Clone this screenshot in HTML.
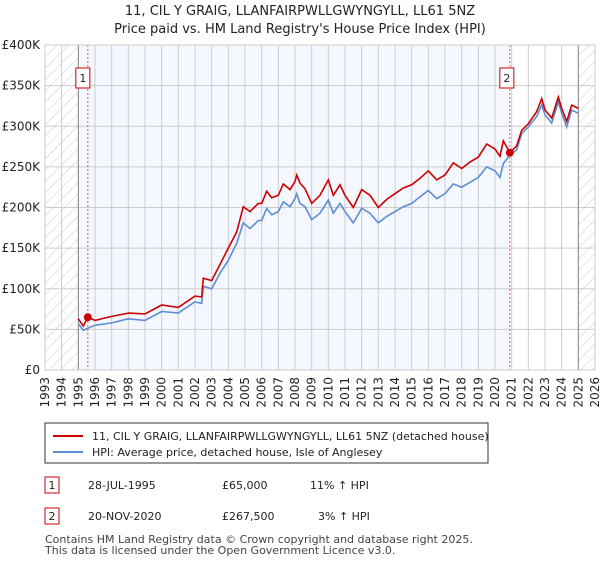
<!DOCTYPE html>
<html><head><meta charset="utf-8"><style>
body{margin:0;background:#fff;font-family:"Liberation Sans","DejaVu Sans",sans-serif;}
svg text{font-family:"DejaVu Sans","Liberation Sans",sans-serif;}
</style></head><body>
<svg id="c" width="600" height="560" xmlns="http://www.w3.org/2000/svg">
<defs><pattern id="hatch" width="8" height="8" patternUnits="userSpaceOnUse" patternTransform="rotate(45)"><line x1="0" y1="0" x2="0" y2="8" stroke="#ccc" stroke-width="1"/></pattern></defs>
<text x="300" y="15" text-anchor="middle" font-size="13" fill="#222">11, CIL Y GRAIG, LLANFAIRPWLLGWYNGYLL, LL61 5NZ</text>
<text x="300" y="33" text-anchor="middle" font-size="13" fill="#222">Price paid vs. HM Land Registry's House Price Index (HPI)</text>
<g id="plot"></g>
<g>
<rect x="45" y="423" width="443" height="40" fill="#fff" stroke="#333"/>
<line x1="53" y1="436" x2="83" y2="436" stroke="#cc0000" stroke-width="2"/>
<text x="92" y="440" font-size="11" fill="#222">11, CIL Y GRAIG, LLANFAIRPWLLGWYNGYLL, LL61 5NZ (detached house)</text>
<line x1="53" y1="452" x2="83" y2="452" stroke="#5b8fd1" stroke-width="2"/>
<text x="92" y="456" font-size="11" fill="#222">HPI: Average price, detached house, Isle of Anglesey</text>
</g>
<g font-size="11" fill="#222">
<rect x="45" y="477" width="14" height="16" fill="#fff" stroke="#cc0000"/><text x="52" y="489" text-anchor="middle">1</text>
<text x="88" y="489">28-JUL-1995</text><text x="222" y="489">£65,000</text><text x="310" y="489">11% ↑ HPI</text>
<rect x="45" y="508" width="14" height="16" fill="#fff" stroke="#cc0000"/><text x="52" y="520" text-anchor="middle">2</text>
<text x="88" y="520">20-NOV-2020</text><text x="222" y="520">£267,500</text><text x="318" y="520">3% ↑ HPI</text>
</g>
<text x="45" y="543" font-size="11" fill="#444">Contains HM Land Registry data © Crown copyright and database right 2025.</text>
<text x="45" y="554" font-size="11" fill="#444">This data is licensed under the Open Government Licence v3.0.</text>
</svg>
<script>
const yTicks=[0,50,100,150,200,250,300,350,400];
const yTickLabels=["£0","£50K","£100K","£150K","£200K","£250K","£300K","£350K","£400K"];
const years=[1993,1994,1995,1996,1997,1998,1999,2000,2001,2002,2003,2004,2005,2006,2007,2008,2009,2010,2011,2012,2013,2014,2015,2016,2017,2018,2019,2020,2021,2022,2023,2024,2025,2026];
const hpiDates=[1995.0,1995.3,1996,1997,1998,1999,2000,2001,2002,2002.4,2002.5,2003,2003.5,2004,2004.5,2004.9,2005.3,2005.8,2006,2006.3,2006.6,2007,2007.3,2007.7,2008,2008.1,2008.3,2008.6,2009,2009.5,2010,2010.3,2010.7,2011,2011.5,2012,2012.5,2013,2013.5,2014,2014.5,2015,2015.5,2016,2016.5,2017,2017.5,2018,2018.5,2019,2019.5,2020,2020.3,2020.5,2020.9,2021.3,2021.6,2022,2022.5,2022.8,2023,2023.4,2023.8,2024,2024.3,2024.6,2025];
const hpiValues=[57,49,55,58,63,61,72,70,84,82,103,100,119,135,156,181,174,184,184,199,191,195,207,201,211,217,205,201,185,193,209,193,205,195,181,199,193,181,189,195,201,205,213,221,211,217,229,225,231,237,250,245,237,254,265,271,291,299,312,326,314,304,330,316,299,320,316];
const priceDates=[1995.0,1995.3,1995.57,1996,1997,1998,1999,2000,2001,2002,2002.4,2002.5,2003,2003.5,2004,2004.5,2004.9,2005.3,2005.8,2006,2006.3,2006.6,2007,2007.3,2007.7,2008,2008.1,2008.3,2008.6,2009,2009.5,2010,2010.3,2010.7,2011,2011.5,2012,2012.5,2013,2013.5,2014,2014.5,2015,2015.5,2016,2016.5,2017,2017.5,2018,2018.5,2019,2019.5,2020,2020.3,2020.5,2020.89,2021.3,2021.6,2022,2022.5,2022.8,2023,2023.4,2023.8,2024,2024.3,2024.6,2025];
const priceValues=[63,54,65,61,66,70,69,80,77,91,90,113,110,130,150,170,201,195,205,205,220,212,215,229,222,232,240,230,223,205,215,234,215,228,215,200,222,215,200,210,217,224,228,236,245,234,240,255,248,256,262,278,272,263,282,267.5,276,295,303,318,334,320,310,336,322,306,326,322];
const saleDates=[1995.57,2020.89];
const saleValues=[65,267.5];
const saleLabels=["1","2"];

const L=45,R=595,T=45,B=370,X0=1993,X1=2026,YMAX=400;
const xs=t=>L+(t-X0)/(X1-X0)*(R-L);
const ys=v=>B-v/YMAX*(B-T);
const NS="http://www.w3.org/2000/svg";
const g=document.getElementById('plot');
function mk(tag,attrs){const e=document.createElementNS(NS,tag);for(const k in attrs)e.setAttribute(k,attrs[k]);g.appendChild(e);return e;}
let e;
e=mk('rect',{x:xs(1995),y:T,width:xs(saleDates[1])-xs(1995),height:B-T,fill:'#f4f7fe'});


e=mk('rect',{x:L,y:T,width:xs(1995)-L,height:B-T,fill:'url(#hatch)'});


e=mk('rect',{x:xs(2025),y:T,width:R-xs(2025),height:B-T,fill:'url(#hatch)'});


years.forEach(y=>{
  e=mk('line',{x1:xs(y),x2:xs(y),y1:T,y2:B,stroke:'#ccc','stroke-width':1});
  
  
  e=mk('text',{x:0,y:0,'font-size':12,fill:'#222','text-anchor':'end',transform:`translate(${xs(y)+4},${B+7}) rotate(-90)`});
  e.textContent=y;
  
  
});
yTicks.forEach((v,i)=>{
  e=mk('line',{x1:L,x2:R,y1:ys(v),y2:ys(v),stroke:'#ccc','stroke-width':1});
  
  
  e=mk('text',{x:L-5,y:ys(v)+4,'font-size':12,fill:'#222','text-anchor':'end'});
  e.textContent=yTickLabels[i];
  
  
});
e=mk('line',{x1:xs(1995),x2:xs(1995),y1:T,y2:B,stroke:'#888','stroke-width':1});


e=mk('line',{x1:xs(2025),x2:xs(2025),y1:T,y2:B,stroke:'#888','stroke-width':1});


saleDates.forEach((d,i)=>{
  e=mk('line',{x1:xs(d),x2:xs(d),y1:T,y2:B,stroke:'#e55','stroke-width':1,'stroke-dasharray':'2,2'});
  
  
});
const pts=(ds,vs)=>ds.map((d,i)=>xs(d).toFixed(1)+','+ys(vs[i]).toFixed(1)).join(' ');
e=mk('polyline',{points:pts(hpiDates,hpiValues),fill:'none',stroke:'#5b8fd1','stroke-width':1.6});


e=mk('polyline',{points:pts(priceDates,priceValues),fill:'none',stroke:'#cc0000','stroke-width':1.6});


saleDates.forEach((d,i)=>{
  e=mk('circle',{cx:xs(d),cy:ys(saleValues[i]),r:4,fill:'#cc0000'});
  
  
  const bx=xs(d)-7-(i==0?5:3);
  e=mk('rect',{x:bx,y:68,width:14,height:20,fill:'#fff',stroke:'#cc0000'});
  
  
  e=mk('text',{x:bx+7,y:82,'font-size':11,'text-anchor':'middle',fill:'#222'});
  e.textContent=saleLabels[i];
  
  
});
e=mk('rect',{x:L,y:T,width:R-L,height:B-T,fill:'none',stroke:'#ccc'});


</script>
</body></html>
